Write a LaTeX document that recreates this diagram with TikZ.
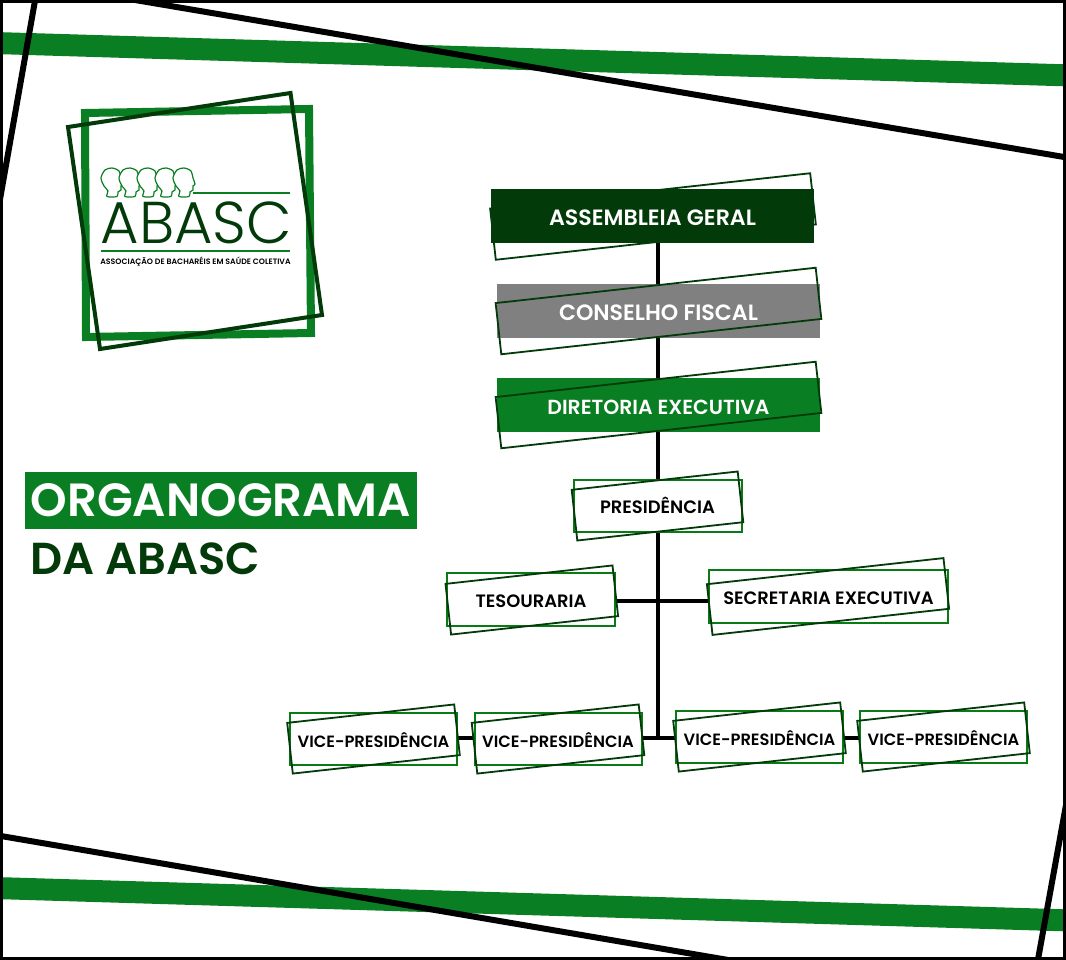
\documentclass[tikz,border=0pt]{standalone}
\usepackage{fontspec}
\setmainfont{Poppins}[BoldFont={Poppins SemiBold}]
\newfontfamily\logofont{Poppins Light}
\usepackage{tikz}
\usetikzlibrary{backgrounds}

\definecolor{abascgreen}{HTML}{0A7E22}
\definecolor{abascline}{HTML}{0A7A14}
\definecolor{abascdark}{HTML}{033A09}
\definecolor{abascgray}{HTML}{808080}

\def\unit{0.02}
\tikzset{
    band/.style={abascgreen, line width=22*\unit cm},
    slash/.style={black, line width=6*\unit cm},
    link/.style={black, line width=4*\unit cm},
    textsize/.style={font=\bfseries\fontsize{#1}{#1}\selectfont},
    solidbox/.style n args={3}{fill=#1, text=white, textsize=12.6,
        text height=19*\unit cm, text depth=0pt,
        inner sep=0pt, minimum width=#2*\unit cm, minimum height=#3*\unit cm},
    linebox/.style 2 args={draw=abascline, fill=white, line width=2*\unit cm, text=black,
        textsize=10.2, text height=16*\unit cm, text depth=0pt,
        inner sep=0pt, minimum width=#1*\unit cm, minimum height=#2*\unit cm},
    tiltbox/.style 2 args={draw=abascdark, line width=1.8*\unit cm, rotate=6.3,
        inner sep=0pt, minimum width=#1*\unit cm, minimum height=#2*\unit cm},
}

\begin{document}
\begin{tikzpicture}[x=0.02cm, y=-0.02cm]
    \useasboundingbox (0,0) rectangle (1066,960);
    \clip (0,0) rectangle (1066,960);

    % Draw title
    \node[fill=abascgreen, text=white, textsize=26.5, text height=33*\unit cm, text depth=0pt,
          inner sep=0pt, minimum width=392*\unit cm, minimum height=57*\unit cm]
          (titlebox) at (221,500) {ORGANOGRAMA};
    \node[text=abascdark, textsize=25.5, text height=33*\unit cm, text depth=0pt,
          inner sep=0pt, anchor=west] (titlesub) at (30,558) {DA ABASC};

    % Draw top boxes
    \node[tiltbox={322}{51.5}] (agtilt) at (653,216.5) {};
    \node[solidbox={abascdark}{323}{54}] (agbox) at (652.5,216) {ASSEMBLEIA GERAL};
    \node[solidbox={abascgray}{323}{54}] (cfbox) at (658.5,311) {CONSELHO FISCAL};
    \node[tiltbox={322}{51.5}] (cftilt) at (658.5,311) {};
    \node[solidbox={abascgreen}{323}{54}, textsize=11.6] (debox) at (658.5,405) {DIRETORIA EXECUTIVA};
    \node[tiltbox={322}{51.5}] (detilt) at (658.5,405) {};

    % Draw white boxes
    \node[linebox={168}{52}] (presbox) at (657.5,505.5) {PRESIDÊNCIA};
    \node[tiltbox={167}{51}] (prestilt) at (657.5,506) {};
    \node[linebox={168}{53}] (tesbox) at (531,599.5) {TESOURARIA};
    \node[tiltbox={168}{51}] (testilt) at (531.8,600) {};
    \node[linebox={239}{53}] (secbox) at (828.5,596) {SECRETARIA EXECUTIVA};
    \node[tiltbox={238}{51}] (sectilt) at (828,596.5) {};

    % Draw vice-presidents
    \node[linebox={167}{52}, textsize=9.3] (vpone) at (373.5,739) {VICE-PRESIDÊNCIA};
    \node[tiltbox={168}{51}] (vponetilt) at (373.5,739) {};
    \node[linebox={167}{52}, textsize=9.3] (vptwo) at (558,739) {VICE-PRESIDÊNCIA};
    \node[tiltbox={168}{51}] (vptwotilt) at (558,739) {};
    \node[linebox={167}{52}, textsize=9.3] (vpthree) at (759.5,737) {VICE-PRESIDÊNCIA};
    \node[tiltbox={168}{51}] (vpthreetilt) at (759.5,737) {};
    \node[linebox={167}{52}, textsize=9.3] (vpfour) at (943.5,737) {VICE-PRESIDÊNCIA};
    \node[tiltbox={168}{51}] (vpfourtilt) at (943.5,737) {};

    \coordinate (sidejoin) at (657.5,601);
    \coordinate (vpjoin) at (657.5,738);

    \begin{scope}[on background layer]
        % Draw page, bands and slashes
        \fill[white] (0,0) rectangle (1066,960);
        \draw[band] (-5,43) -- (1071,75.5);
        \draw[band] (-5,888) -- (1071,920.5);
        \draw[slash] (135,0) -- (1070,158);
        \draw[slash] (36,-5) -- (-1,205);
        \draw[slash] (-5,835) -- (740,962);
        \draw[slash] (1066,805) -- (1037,965);
        \draw[black, line width=6*\unit cm] (0,0) rectangle (1066,960);

        % Draw connectors
        \draw[link] (presbox |- agbox.south) -- (presbox |- vpjoin);
        \draw[link] (tesbox.east |- sidejoin) -- (secbox.west |- sidejoin);
        \draw[link] (vpone.east |- vpjoin) -- (vptwo.west |- vpjoin);
        \draw[link] (vptwo.east |- vpjoin) -- (vpthree.west |- vpjoin);
        \draw[link] (vpthree.east |- vpjoin) -- (vpfour.west |- vpjoin);
    \end{scope}

    % Draw logo squares
    \draw[abascgreen, line width=8*\unit cm] (85,113) -- (309,109) -- (311,333) -- (86,337) -- cycle;
    \draw[abascdark, line width=4*\unit cm] (68,127) -- (290.5,93) -- (322,315) -- (100,349) -- cycle;

    % Draw heads
    \foreach \i in {0,...,4} {
        \begin{scope}[shift={(101+18*\i,168)}]
            \draw[abascgreen, fill=white, line width=1.2*\unit cm] plot[smooth cycle] coordinates
                {(6,28.5) (7,23) (3,18) (0,10) (4,2) (11,0) (18,3) (20,10) (22,16) (20,18) (20,22) (17,24) (16,28.5)};
        \end{scope}
    }

    % Draw logo lettering
    \draw[abascgreen, line width=2*\unit cm] (193,193) -- (290,193);
    \draw[abascgreen, line width=2*\unit cm] (101,251) -- (290,251);
    \node[text=abascdark, font=\logofont\fontsize{33.6}{34}\selectfont, text height=41*\unit cm, text depth=0pt,
          inner sep=0pt] (logoname) at (196.5,222.5) {ABASC};
    \node[text=black, textsize=4.45, text height=6.5*\unit cm, text depth=0pt, inner sep=0pt]
         (logosub) at (195.5,261.5) {ASSOCIAÇÃO DE BACHARÉIS EM SAÚDE COLETIVA};

\end{tikzpicture}
\end{document}
